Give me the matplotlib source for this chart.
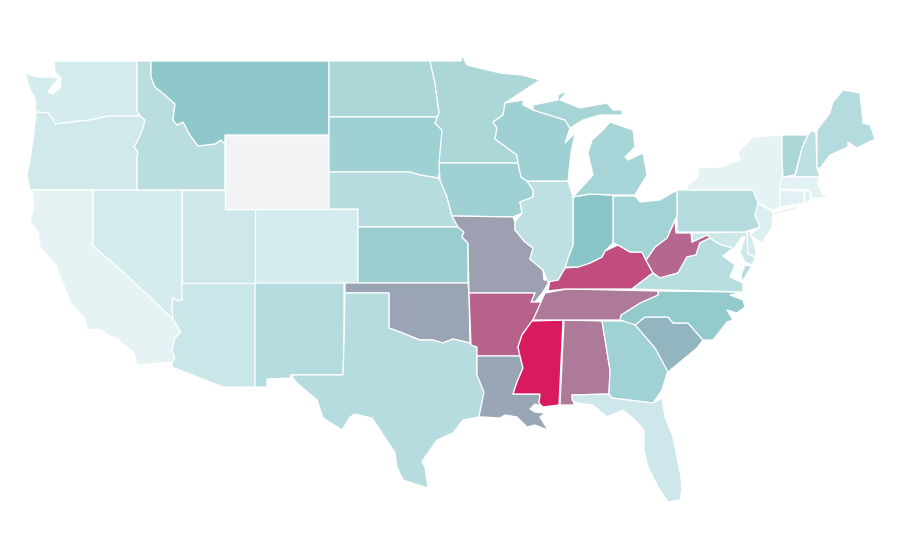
import matplotlib
matplotlib.use("Agg")
import matplotlib.pyplot as plt
from matplotlib.collections import PolyCollection
from matplotlib.colors import LinearSegmentedColormap, Normalize

# state outlines (x, y in image pixels)
WA = [(54,61),(137,61),(137,110),(138,112),(140,116),(109,116),(90,120),(72,122),(55,124),(52,118),(48,113),(38,112),(36,113),(35,98),(30,90),(25,73),(37,77),(53,77),(59,79),(53,85),(48,92),(53,94),(60,88),(61,78),(55,72)]
OR = [(36,113),(38,112),(48,113),(52,118),(55,124),(72,122),(90,120),(109,116),(140,116),(145,120),(143,128),(138,140),(134,147),(138,152),(137,157),(137,190),(30,190),(27,175),(30,160),(33,140)]
CA = [(32,190),(93,190),(93,246),(121,270),(173,319),(181,332),(175,338),(172,350),(175,358),(172,362),(137,365),(134,353),(123,344),(117,338),(110,336),(100,330),(87,329),(84,317),(70,302),(63,283),(58,272),(57,267),(40,247),(38,232),(30,222),(34,207)]
NV = [(93,190),(182,190),(182,300),(178,301),(173,298),(172,303),(173,319),(121,270),(93,246)]
AZ = [(182,283),(255,283),(255,387),(223,387),(172,367),(172,362),(175,358),(172,350),(175,338),(181,332),(173,319),(172,303),(173,298),(178,301),(182,300)]
UT = [(182,190),(225,190),(225,209),(255,209),(255,283),(182,283)]
ID = [(137,61),(151,61),(151,77),(155,87),(165,95),(175,104),(173,120),(177,125),(183,122),(190,135),(198,146),(215,144),(221,140),(225,144),(225,190),(137,190),(137,157),(138,152),(134,147),(138,140),(143,128),(145,120),(140,116),(138,112),(137,110)]
MT = [(151,61),(329,61),(329,135),(225,135),(225,144),(221,140),(215,144),(198,146),(190,135),(183,122),(177,125),(173,120),(175,104),(165,95),(155,87),(151,77)]
WY = [(225,135),(329,135),(329,209),(225,209)]
CO = [(255,209),(329,209),(358,209),(358,283),(255,283)]
NM = [(255,283),(344,283),(344,343),(343,375),(291,375),(291,378),(267,379),(267,387),(255,387)]
ND = [(329,61),(430,61),(435,83),(439,113),(439,117),(329,117)]
SD = [(329,117),(439,117),(435,123),(442,130),(442,162),(438,178),(420,175),(410,172),(329,172)]
NE = [(329,172),(410,172),(420,175),(438,178),(440,180),(447,197),(452,216),(458,227),(358,227),(358,209),(329,209)]
KS = [(358,227),(458,227),(464,232),(462,237),(468,243),(468,283),(358,283)]
OK = [(345,283),(468,283),(469,293),(470,343),(453,339),(443,343),(433,340),(420,340),(400,332),(389,328),(389,293),(345,293)]
TX = [(345,293),(389,293),(389,328),(400,332),(420,340),(433,340),(443,343),(453,339),(470,343),(477,347),(477,375),(484,392),(479,417),(463,420),(453,433),(437,440),(425,457),(422,462),(425,467),(428,488),(403,480),(397,467),(395,453),(380,430),(372,418),(355,414),(350,417),(342,430),(323,418),(317,400),(297,383),(291,375),(343,375),(344,343)]
MN = [(430,61),(461,61),(462,55),(467,65),(500,73),(522,75),(540,80),(505,103),(503,115),(493,122),(497,128),(495,139),(517,155),(518,163),(439,163),(442,130),(435,123),(439,113),(435,83)]
IA = [(439,163),(518,163),(521,177),(527,181),(533,190),(533,197),(520,202),(522,213),(513,217),(452,216),(447,197),(440,180)]
MO = [(452,216),(513,217),(515,222),(515,230),(525,242),(533,248),(530,259),(543,270),(544,280),(550,280),(543,292),(535,302),(531,302),(535,293),(469,293),(468,243),(462,237),(464,232),(458,227)]
AR = [(469,293),(535,293),(531,302),(542,302),(533,320),(522,335),(518,347),(520,356),(477,356),(477,347),(471,345)]
LA = [(477,356),(520,356),(523,368),(517,382),(513,394),(540,394),(539,403),(543,407),(535,404),(530,409),(535,412),(545,413),(540,417),(548,430),(535,425),(527,427),(517,417),(505,415),(500,418),(483,417),(479,417),(484,392),(477,375)]
MS = [(532,321),(563,320),(559,405),(543,407),(539,403),(540,394),(513,394),(517,382),(523,368),(520,356),(518,347),(522,335)]
AL = [(564,320),(602,321),(610,370),(609,394),(572,395),(574,405),(560,405)]
GA = [(602,321),(635,321),(637,327),(655,348),(668,370),(662,390),(653,403),(612,398),(609,394),(610,370)]
FL = [(572,395),(609,394),(612,398),(653,403),(662,398),(665,417),(673,437),(681,477),(682,490),(680,500),(668,502),(658,487),(648,467),(644,450),(644,430),(635,420),(623,410),(607,417),(593,405),(577,403),(572,400)]
SC = [(635,325),(645,317),(668,317),(673,323),(688,323),(703,340),(697,348),(668,372),(655,348),(637,327)]
NC = [(658,291),(743,292),(730,295),(743,300),(745,307),(737,313),(727,310),(733,320),(727,322),(713,340),(703,340),(688,323),(673,323),(668,317),(645,317),(635,325),(620,320),(621,315),(640,303),(658,295)]
TN = [(545,293),(567,289),(658,291),(658,295),(640,303),(621,315),(620,320),(533,320)]
KY = [(548,291),(550,280),(558,280),(565,268),(578,267),(590,263),(602,257),(605,251),(618,245),(630,252),(642,252),(646,260),(653,273),(645,279),(632,289),(565,289)]
WV = [(646,260),(655,247),(667,238),(675,220),(676,233),(691,233),(692,242),(707,235),(716,242),(710,238),(700,243),(696,255),(687,257),(678,273),(660,278),(653,273)]
VA = [(632,289),(645,279),(653,273),(660,278),(678,273),(687,257),(696,255),(700,243),(710,238),(716,242),(722,245),(733,248),(723,256),(735,265),(730,277),(743,283),(743,292)]
VA_SHORE = [(745,265),(752,266),(742,282),(741,275)]
MD = [(692,233),(747,232),(748,254),(756,257),(752,265),(745,262),(740,252),(745,237),(742,237),(733,250),(733,248),(722,245),(716,242),(707,235),(692,242)]
DE = [(747,232),(750,231),(756,250),(756,257),(748,254)]
PA = [(677,190),(753,190),(757,200),(760,205),(755,215),(760,227),(745,232),(677,232)]
NJ = [(758,203),(773,212),(772,227),(762,243),(750,235),(760,227),(755,215)]
NY = [(687,190),(687,186),(698,177),(698,168),(720,167),(740,160),(738,152),(753,137),(782,135),(782,160),(783,177),(780,189),(780,207),(773,210),(758,203),(753,190)]
LONG_ISLAND = [(773,213),(800,205),(797,209),(775,215)]
OH = [(613,196),(635,196),(640,202),(660,200),(677,190),(677,216),(675,220),(667,238),(655,247),(646,260),(642,252),(630,252),(618,245),(613,243)]
IN = [(573,197),(590,194),(613,195),(613,243),(605,251),(602,257),(590,263),(578,267),(565,267),(568,258),(573,245)]
IL = [(527,181),(568,181),(573,197),(573,245),(568,258),(565,268),(558,280),(548,282),(543,270),(530,259),(533,248),(525,242),(515,230),(515,222),(522,213),(520,202),(533,197),(533,190)]
WI = [(505,103),(523,100),(523,105),(533,110),(565,120),(570,128),(565,143),(575,133),(571,153),(568,181),(527,181),(521,177),(518,163),(517,155),(495,139),(497,128),(493,122),(503,115)]
MI_LOWER = [(573,197),(593,175),(588,153),(592,140),(603,130),(610,122),(633,130),(635,147),(625,157),(628,160),(643,153),(647,175),(635,195),(613,195),(590,194)]
MI_UPPER = [(533,105),(558,100),(558,95),(568,90),(560,100),(580,108),(607,103),(613,110),(622,110),(622,115),(600,115),(583,120),(570,128),(565,120),(533,110)]
VT = [(782,135),(808,135),(802,148),(795,175),(783,177),(782,160)]
NH = [(812,130),(816,133),(817,168),(820,177),(795,177),(802,148),(808,135)]
ME = [(817,130),(830,113),(833,102),(843,90),(860,93),(863,123),(870,125),(875,139),(857,148),(848,142),(848,147),(830,155),(820,168),(817,168)]
MA = [(782,177),(820,177),(817,183),(823,195),(830,196),(823,198),(812,198),(810,190),(780,189)]
CT = [(780,190),(804,191),(804,203),(780,207)]
RI = [(805,191),(810,191),(810,201),(805,203)]

state_shapes = [WA, OR, CA, NV, AZ, UT, ID, MT, WY, CO, NM, ND, SD, NE, KS, OK, TX, MN, IA, MO,
                AR, LA, MS, AL, GA, FL, SC, NC, TN, KY, WV, VA, VA_SHORE, MD, DE, PA, NJ, NY, LONG_ISLAND,
                OH, IN, IL, WI, MI_LOWER, MI_UPPER, VT, NH, ME, MA, CT, RI]

# value per shape, 0-100; Wyoming has no data
state_values = [9, 12, 1, 9, 16, 13, 24, 48, float("nan"), 9, 27, 32, 39, 26, 42, 60, 26, 32, 39, 61,
                79, 59, 100, 72, 38, 14, 55, 45, 72, 85, 77, 25, 25, 13, 10, 27, 6, 1, 1,
                36, 50, 22, 39, 35, 35, 32, 22, 27, 3, 3, 5]

cmap = LinearSegmentedColormap.from_list("rate", ["#e6f4f6", "#8ac6c9", "#d91a5f"])
cmap.set_bad("#f2f3f5")

fig = plt.figure(figsize=(9, 5.6), dpi=100)
ax = fig.add_axes([0, 0, 1, 1])

states = PolyCollection(state_shapes, array=state_values, cmap=cmap, norm=Normalize(0, 100),
                        edgecolors="white", linewidths=0.9)
ax.add_collection(states)

ax.set_xlim(0, 900)
ax.set_ylim(560, 0)
ax.axis("off")

fig.savefig("out.png", dpi=100)
